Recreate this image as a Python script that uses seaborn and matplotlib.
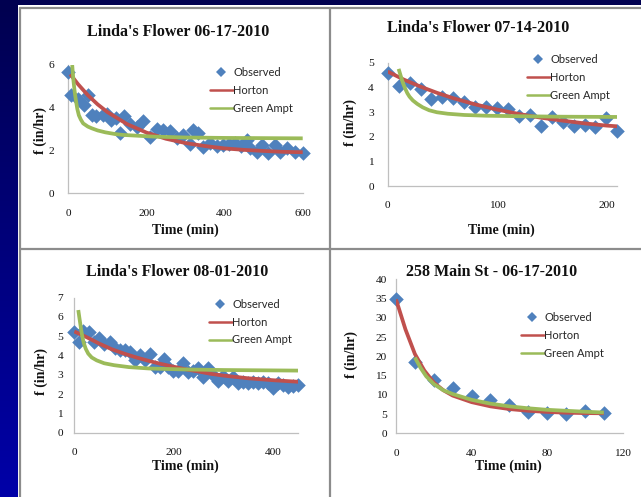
import numpy as np
import pandas as pd
import matplotlib
matplotlib.use("Agg")
import matplotlib.pyplot as plt
import seaborn as sns
from matplotlib.lines import Line2D
from matplotlib.patches import Rectangle

# ---------------- data ----------------
# Linda's Flower 06-17-2010
lf1_t_obs = [0, 8, 25, 40, 50, 60, 72, 88, 100, 110, 122, 132, 142, 158, 175, 192, 210,
             226, 243, 260, 277, 294, 311, 320, 333, 345, 363, 380, 397, 412, 427, 442,
             457, 465, 482, 495, 512, 529, 542, 559, 580, 600]
lf1_f_obs = [5.69, 4.60, 4.40, 4.15, 4.62, 3.66, 3.60, 3.68, 3.72, 3.43, 3.50, 2.80, 3.62,
             3.22, 3.12, 3.38, 2.65, 3.00, 2.96, 2.90, 2.58, 2.73, 2.30, 2.96, 2.80, 2.18,
             2.34, 2.22, 2.26, 2.30, 2.34, 2.20, 2.49, 2.10, 1.95, 2.26, 1.87, 2.26, 1.95,
             2.10, 1.95, 1.87]
lf1_t_horton = [5, 25, 50, 75, 100, 150, 200, 250, 300, 350, 400, 450, 500, 550, 600]
lf1_f_horton = [5.57, 5.10, 4.59, 4.16, 3.80, 3.24, 2.84, 2.55, 2.35, 2.21, 2.10, 2.03,
                1.98, 1.94, 1.92]
lf1_t_ga = [10, 13, 16, 19, 23, 27, 32, 38, 50, 60, 75, 95, 120, 140, 180, 220, 300,
            400, 500, 600]
lf1_f_ga = [6.00, 5.30, 4.80, 4.40, 3.95, 3.65, 3.45, 3.27, 3.12, 3.04, 2.94, 2.85,
            2.77, 2.73, 2.69, 2.65, 2.61, 2.59, 2.58, 2.57]

# Linda's Flower 07-14-2010
lf2_t_obs = [0, 10, 20, 30, 40, 50, 60, 70, 80, 90, 100, 110, 120, 130, 140, 150, 160,
             170, 180, 190, 200, 210]
lf2_f_obs = [4.59, 4.05, 4.19, 3.92, 3.54, 3.62, 3.55, 3.42, 3.22, 3.19, 3.15, 3.12,
             2.84, 2.88, 2.43, 2.81, 2.61, 2.43, 2.47, 2.38, 2.74, 2.23]
lf2_t_horton = [0, 15, 30, 45, 60, 80, 100, 120, 140, 160, 180, 200, 210]
lf2_f_horton = [4.64, 4.31, 4.03, 3.78, 3.56, 3.31, 3.10, 2.92, 2.77, 2.65, 2.54, 2.45,
                2.42]
lf2_t_ga = [10, 12, 14, 16, 18, 20, 23, 27, 32, 38, 45, 55, 70, 90, 120, 160, 210]
lf2_f_ga = [4.75, 4.45, 4.17, 3.95, 3.76, 3.62, 3.47, 3.33, 3.19, 3.07, 2.99, 2.93,
            2.88, 2.85, 2.83, 2.81, 2.80]

# Linda's Flower 08-01-2010
lf3_t_obs = [0, 10, 18, 30, 40, 50, 60, 72, 82, 92, 102, 112, 122, 132, 142, 152, 162,
             172, 180, 189, 199, 209, 219, 229, 239, 249, 259, 269, 279, 289, 299, 309,
             319, 329, 339, 349, 359, 370, 380, 390, 400, 410, 420, 430, 440, 450]
lf3_f_obs = [5.24, 4.70, 5.27, 5.20, 4.72, 4.89, 4.58, 4.72, 4.37, 4.29, 4.29, 4.20,
             3.77, 4.03, 3.77, 4.08, 3.40, 3.42, 3.80, 3.42, 3.22, 3.20, 3.60, 3.15,
             3.18, 3.34, 2.90, 3.34, 2.99, 2.70, 2.94, 2.70, 2.90, 2.60, 2.64, 2.60,
             2.64, 2.58, 2.64, 2.56, 2.32, 2.56, 2.47, 2.35, 2.40, 2.45]
lf3_t_horton = [0, 25, 50, 75, 100, 125, 150, 175, 200, 225, 250, 275, 300, 325, 350,
                375, 400, 425, 450]
lf3_f_horton = [5.25, 4.95, 4.62, 4.33, 4.10, 3.90, 3.72, 3.56, 3.42, 3.28, 3.17, 3.05,
                2.96, 2.89, 2.82, 2.77, 2.72, 2.68, 2.64]
lf3_t_ga = [8, 10, 12, 14, 16, 19, 23, 28, 35, 45, 60, 80, 110, 150, 220, 300, 450]
lf3_f_ga = [6.36, 6.00, 5.65, 5.30, 5.00, 4.65, 4.35, 4.10, 3.90, 3.75, 3.60, 3.50,
            3.40, 3.33, 3.28, 3.25, 3.22]

# 258 Main St - 06-17-2010
ms_t_obs = [0, 10, 20, 30, 40, 50, 60, 70, 80, 90, 100, 110]
ms_f_obs = [35.0, 18.6, 13.8, 11.7, 9.7, 8.6, 7.3, 5.6, 5.4, 5.0, 5.9, 5.4]
ms_t_horton = [0, 5, 10, 15, 20, 25, 30, 40, 50, 60, 70, 80, 90, 100, 110]
ms_f_horton = [34.8, 27.0, 20.6, 16.3, 13.2, 11.2, 9.8, 8.1, 7.0, 6.3, 5.85, 5.55, 5.35,
               5.25, 5.20]
ms_t_ga = [10, 13, 16, 20, 25, 30, 40, 50, 60, 70, 80, 90, 100, 110]
ms_f_ga = [19.7, 17.0, 14.8, 12.8, 11.2, 10.2, 8.7, 7.7, 7.0, 6.5, 6.1, 5.85, 5.6, 5.4]

titles = ["Linda's Flower 06-17-2010", "Linda's Flower 07-14-2010",
          "Linda's Flower 08-01-2010", "258 Main St - 06-17-2010"]
series_names = ["Observed", "Horton", "Green Ampt"]
x_label = "Time (min)"
y_label = "f (in/hr)"

# ---------------- style ----------------
sns.set_style("white")
plt.rcParams["font.family"] = ["Liberation Serif", "DejaVu Serif"]

C_OBS = "#4f81bd"
C_HOR = "#c0504d"
C_GA = "#9bbb59"
NAVY = "#000050"

W, H = 641, 497
fig = plt.figure(figsize=(W / 100, H / 100), dpi=100)
fig.patch.set_facecolor(NAVY)

# slide background: navy band, blue gradient strip on the left, white chart area
bg = fig.add_axes([0, 0, 1, 1])
bg.set_xlim(0, W)
bg.set_ylim(H, 0)
bg.axis("off")
g = np.linspace(0, 1, 256)[:, None]
top_rgb = np.array([0x00, 0x00, 0x50]) / 255
bot_rgb = np.array([0x00, 0x00, 0xa8]) / 255
grad = top_rgb[None, None, :] * (1 - g[:, :, None]) + bot_rgb[None, None, :] * g[:, :, None]
bg.imshow(grad, extent=(0, 18, H, 5), aspect="auto", interpolation="bilinear")
bg.add_patch(Rectangle((18, 5), W - 18, H - 5, facecolor="white", edgecolor="none"))
frame_kw = dict(color="#8c8c8c", lw=1.6)
bg.plot([20, 20], [8, H], **frame_kw)
bg.plot([20, W], [8, 8], **frame_kw)
bg.plot([330, 330], [8, H], **frame_kw)
bg.plot([20, W], [249, 249], **frame_kw)
bg.set_xlim(0, W)
bg.set_ylim(H, 0)

panels = [
    dict(box=(68.3, 65.0, 302.7, 193.3), xlim=(0, 600), ylim=(0, 6),
         xticks=[0, 200, 400, 600], yticks=[0, 2, 4, 6],
         title_xy=(178, 31.5), xlab_xy=(185.7, 230), ylab_xy=(40, 130.7),
         leg_xy=(210, 74), ypad=10,
         obs=(lf1_t_obs, lf1_f_obs), hor=(lf1_t_horton, lf1_f_horton), ga=(lf1_t_ga, lf1_f_ga)),
    dict(box=(387.7, 62.7, 617.3, 186.0), xlim=(0, 210), ylim=(0, 5),
         xticks=[0, 100, 200], yticks=[0, 1, 2, 3, 4, 5],
         title_xy=(477.7, 28.3), xlab_xy=(501.7, 230), ylab_xy=(350.7, 122),
         leg_xy=(527, 61), ypad=10,
         obs=(lf2_t_obs, lf2_f_obs), hor=(lf2_t_horton, lf2_f_horton), ga=(lf2_t_ga, lf2_f_ga)),
    dict(box=(74.3, 297.7, 298.3, 432.7), xlim=(0, 450), ylim=(0, 7),
         xticks=[0, 200, 400], yticks=[0, 1, 2, 3, 4, 5, 6, 7],
         title_xy=(176.7, 271.7), xlab_xy=(185, 466.7), ylab_xy=(41.7, 371.7),
         leg_xy=(209, 305.7), ypad=8,
         obs=(lf3_t_obs, lf3_f_obs), hor=(lf3_t_horton, lf3_f_horton), ga=(lf3_t_ga, lf3_f_ga)),
    dict(box=(396.0, 279.3, 622.7, 433.3), xlim=(0, 120), ylim=(0, 40),
         xticks=[0, 40, 80, 120], yticks=list(range(0, 45, 5)),
         title_xy=(491.7, 271.7), xlab_xy=(508.3, 466.7), ylab_xy=(351.7, 355),
         leg_xy=(521, 319.3), ypad=6.5,
         obs=(ms_t_obs, ms_f_obs), hor=(ms_t_horton, ms_f_horton), ga=(ms_t_ga, ms_f_ga)),
]

for title, p in zip(titles, panels):
    l, t, r, b = p["box"]
    ax = fig.add_axes([l / W, 1 - b / H, (r - l) / W, (b - t) / H])
    ax.patch.set_alpha(0)

    def to_ax(x, y):
        return (x - l) / (r - l), (b - y) / (b - t)

    obs = pd.DataFrame({"t": p["obs"][0], "f": p["obs"][1]})
    hor = pd.DataFrame({"t": p["hor"][0], "f": p["hor"][1]})
    ga = pd.DataFrame({"t": p["ga"][0], "f": p["ga"][1]})

    sns.scatterplot(data=obs, x="t", y="f", ax=ax, marker="D", s=55, color=C_OBS,
                    edgecolor=C_OBS, linewidth=0, zorder=3, clip_on=False)
    sns.lineplot(data=hor, x="t", y="f", ax=ax, color=C_HOR, lw=2.7, zorder=4,
                 solid_capstyle="butt")
    sns.lineplot(data=ga, x="t", y="f", ax=ax, color=C_GA, lw=2.7, zorder=5,
                 solid_capstyle="butt")

    ax.set_xlim(*p["xlim"])
    ax.set_ylim(*p["ylim"])
    ax.set_xticks(p["xticks"])
    ax.set_yticks(p["yticks"])
    for s in ("top", "right"):
        ax.spines[s].set_visible(False)
    for s in ("left", "bottom"):
        ax.spines[s].set_color("#bfbfbf")
        ax.spines[s].set_linewidth(0.9)
    ax.tick_params(axis="x", length=0, pad=11, labelsize=8.2, labelcolor="#111111")
    ax.tick_params(axis="y", length=0, pad=p["ypad"], labelsize=8.2, labelcolor="#111111")

    ax.set_xlabel(x_label, fontsize=10, fontweight="bold", color="#111111")
    ax.set_ylabel(y_label, fontsize=10, fontweight="bold", color="#111111")
    ax.xaxis.set_label_coords(*to_ax(*p["xlab_xy"]))
    ax.yaxis.set_label_coords(*to_ax(*p["ylab_xy"]))
    ax.xaxis.label.set_va("center")
    ax.yaxis.label.set_va("center")

    tx, ty = to_ax(*p["title_xy"])
    ax.set_title(title, x=tx, y=ty, pad=0, fontsize=11.5, fontweight="bold",
                 color="#111111", va="center", ha="center")

    handles = [
        Line2D([], [], marker="D", ls="none", color=C_OBS, markersize=4.6, mew=0),
        Line2D([], [], color=C_HOR, lw=1.8),
        Line2D([], [], color=C_GA, lw=1.8),
    ]
    lx, ly = p["leg_xy"]
    ax.legend(handles, series_names, loc="upper left",
              bbox_to_anchor=(lx / W, 1 - (ly - 7) / H), bbox_transform=fig.transFigure,
              frameon=False, borderpad=0, borderaxespad=0, handlelength=2.05,
              handletextpad=0.05, labelspacing=0.62,
              prop={"family": "Lato", "size": 8})

fig.savefig("out.png", dpi=100, facecolor=fig.get_facecolor())
